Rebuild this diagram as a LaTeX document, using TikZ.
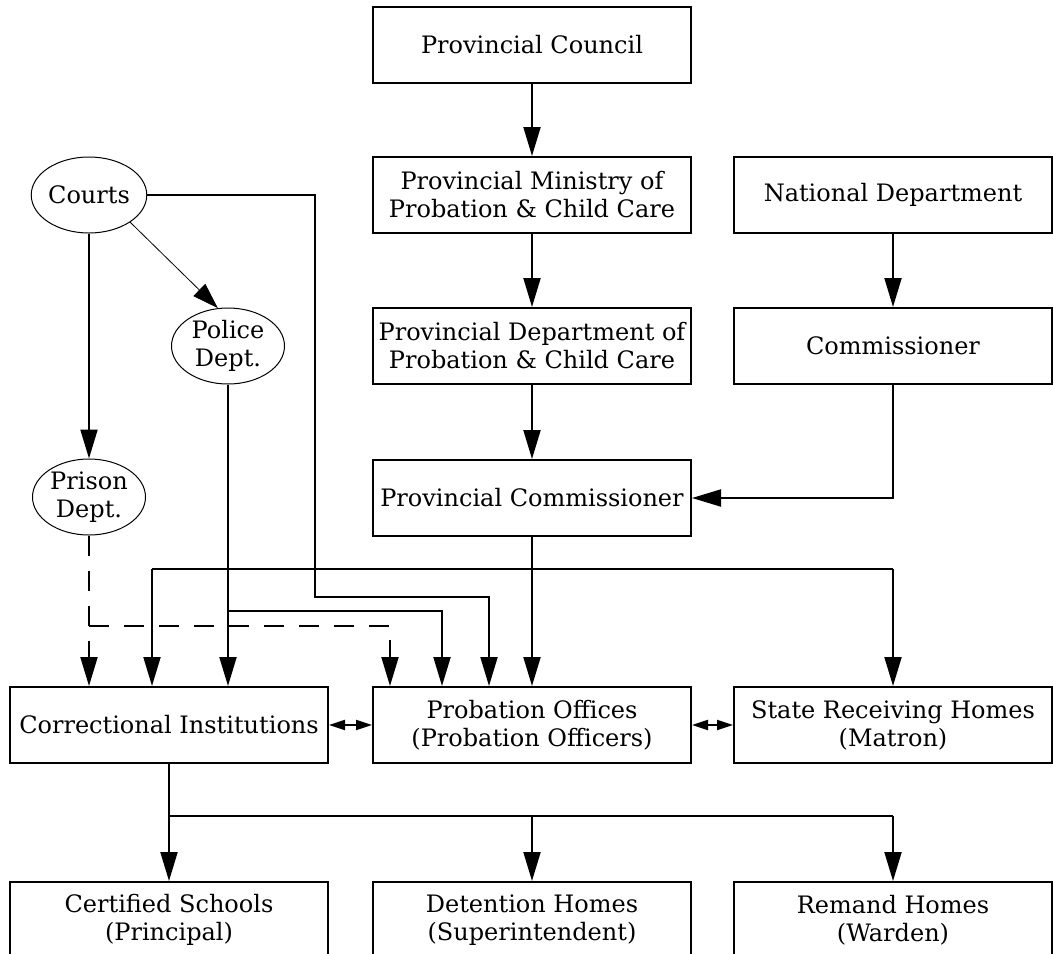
\documentclass[tikz,border=0pt]{standalone}
\usepackage{fontspec}
\setmainfont{DejaVu Serif}
\usetikzlibrary{arrows.meta,shapes.geometric}
\begin{document}
\begin{tikzpicture}[x=0.5pt,y=-0.5pt,
  box/.style={draw,line width=1pt,minimum width=159pt,minimum height=38pt,inner sep=1pt,align=center,font=\fontsize{12}{14}\selectfont},
  oval/.style={draw,ellipse,line width=0.5pt,minimum width=56.5pt,minimum height=38pt,inner sep=0pt,align=center,font=\fontsize{12}{14}\selectfont},
  conn/.style={line width=1pt},
  arr/.style={conn,-{Triangle[length=14.5pt,width=8.5pt]}},
  thinarr/.style={line width=0.4pt,-{Triangle[length=13pt,width=8.5pt]}},
  darr/.style={conn,{Triangle[length=8pt,width=5pt]}-{Triangle[length=8pt,width=5pt]}},
  dsh/.style={dash pattern=on 10pt off 7.5pt}
]
\useasboundingbox (0,0) rectangle (1053,953);
% boxes
\node[box] (council) at (532,44.5) {Provincial Council};
\node[box] (ministry) at (532,195) {Provincial Ministry of\\Probation \& Child Care};
\node[box] (national) at (893,195) {National Department};
\node[box] (provdept) at (532,346) {Provincial Department of\\Probation \& Child Care};
\node[box] (commissioner) at (893,346) {Commissioner};
\node[box] (provcomm) at (532,498) {Provincial Commissioner};
\node[box] (correctional) at (169,725) {Correctional Institutions};
\node[box] (probation) at (532,725) {Probation Offices\\(Probation Officers)};
\node[box] (state) at (893,725) {State Receiving Homes\\(Matron)};
\node[box] (certified) at (169,920) {Certified Schools\\(Principal)};
\node[box] (detention) at (532,920) {Detention Homes\\(Superintendent)};
\node[box] (remand) at (893,920) {Remand Homes\\(Warden)};
% ellipses
\node[oval] (courts) at (89,195) {Courts};
\node[oval] (police) at (228,346) {Police\\Dept.};
\node[oval] (prison) at (89,497) {Prison\\Dept.};
% coordinates
\coordinate (hL) at (152,569);
\coordinate (hR) at (893,569);
\coordinate (c1) at (315,597);
\coordinate (c2) at (489,597);
\coordinate (p1) at (228,611);
\coordinate (p2) at (442,611);
\coordinate (d1) at (89,626);
\coordinate (d2) at (390,626);
\coordinate (b1) at (169,816);
\coordinate (b2) at (532,816);
\coordinate (b3) at (893,816);
% main chain
\draw[arr] (council) -- (ministry);
\draw[arr] (ministry) -- (provdept);
\draw[arr] (provdept) -- (provcomm);
\draw[arr] (national) -- (commissioner);
\draw[arr] (commissioner.south) |- (provcomm.east);
\draw[arr] (provcomm) -- (probation);
% branch from provincial commissioner
\draw[conn] (hL) -- (hR);
\draw[arr] (hL) -- (hL |- correctional.north);
\draw[arr] (hR) -- (state.north);
% courts
\draw[arr] (courts.east) -| (c1) -- (c2) -- (c2 |- probation.north);
\draw[arr] (courts) -- (prison);
\draw[thinarr] (courts.south east) -- (police.105);
% police
\draw[arr] (police.south) -- (police.south |- correctional.north);
\draw[arr] (p1) -- (p2) -- (p2 |- probation.north);
% prison (dashed)
\draw[arr,dsh] (prison.south) -- (prison.south |- correctional.north);
\draw[arr,dsh] (d1) -- (d2) -- (d2 |- probation.north);
% double arrows
\draw[darr] (correctional.east) -- (probation.west);
\draw[darr] (probation.east) -- (state.west);
% lower branch
\draw[conn] (correctional.south) -- (b1) -- (b3);
\draw[arr] (b1) -- (certified.north);
\draw[arr] (b2) -- (detention.north);
\draw[arr] (b3) -- (remand.north);
\end{tikzpicture}
\end{document}
